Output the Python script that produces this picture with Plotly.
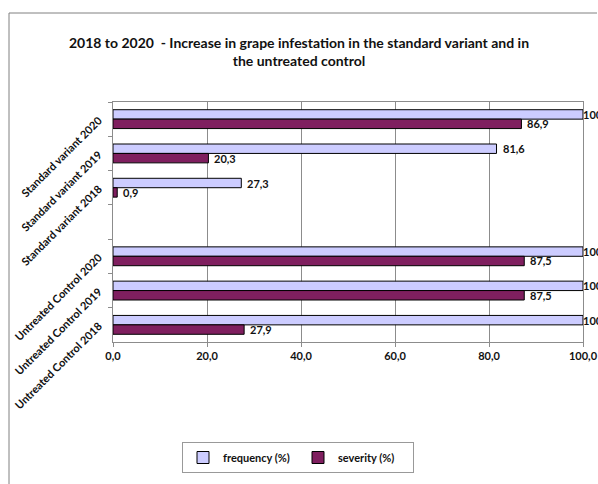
import plotly.graph_objects as go

categories = ["Standard variant 2020", "Standard variant 2019", "Standard variant 2018", " ",
              "Untreated Control 2020", "Untreated Control 2019", "Untreated Control 2018"]
frequency = [100.0, 81.6, 27.3, None, 100.0, 100.0, 100.0]
severity = [86.9, 20.3, 0.9, None, 87.5, 87.5, 27.9]
x_ticks = [0, 20, 40, 60, 80, 100]
x_tick_labels = ["0,0", "20,0", "40,0", "60,0", "80,0", "100,0"]

FONT = "Lato"
X_MAX = 100

def fmt(v):
    return f"{v:.1f}".replace(".", ",")

fig = go.Figure()
fig.add_trace(go.Bar(
    y=categories, x=frequency, orientation="h", name="frequency (%)",
    marker=dict(color="#CCCCFF", line=dict(color="#000000", width=1)),
    cliponaxis=False,
))
fig.add_trace(go.Bar(
    y=categories, x=severity, orientation="h", name="severity (%)",
    marker=dict(color="#7F1F5F", line=dict(color="#000000", width=1)),
    cliponaxis=False,
))

# data labels (Excel-style: labels at the axis maximum are pulled back inside)
for series, yshift in ((frequency, 4.7), (severity, -4.7)):
    for cat, v in zip(categories, series):
        if v is None:
            continue
        fig.add_annotation(
            x=v, y=cat, xref="x", yref="y", text=fmt(v), showarrow=False,
            xanchor="left", yanchor="middle",
            xshift=(-2 if v >= X_MAX else 4), yshift=yshift,
            font=dict(family=FONT, size=11, color="#111111", weight="bold"),
        )

fig.update_layout(
    width=598, height=484, autosize=False,
    margin=dict(l=113, r=15, t=102, b=142, autoexpand=False),
    paper_bgcolor="white", plot_bgcolor="white",
    barmode="group", bargap=0.45, bargroupgap=0,
    font=dict(family=FONT, color="#111111"),
    title=dict(
        text="2018 to 2020  - Increase in grape infestation in the standard variant and in<br>the untreated control",
        x=0.5, xanchor="center", xref="container",
        y=1 - 48 / 484, yanchor="top", yref="container",
        font=dict(family=FONT, size=14, color="#111111", weight="bold"),
    ),
    xaxis=dict(
        range=[0, X_MAX], tickvals=x_ticks, ticktext=x_tick_labels,
        showgrid=True, gridcolor="#8C8C8C", gridwidth=1,
        showline=True, linecolor="#8C8C8C", linewidth=1, mirror=True,
        ticks="outside", ticklen=4, tickcolor="#8C8C8C",
        tickfont=dict(family=FONT, size=11, color="#111111", weight="bold"),
        zeroline=False, fixedrange=True, automargin=False,
    ),
    yaxis=dict(
        categoryorder="array", categoryarray=categories, autorange="reversed",
        type="category", tickson="boundaries",
        showline=True, linecolor="#8C8C8C", linewidth=1, mirror=True,
        ticks="outside", ticklen=4, tickcolor="#8C8C8C",
        tickangle=-45, showgrid=False, automargin=False, ticklabelstandoff=11,
        tickfont=dict(family=FONT, size=11, color="#111111", weight="bold"),
    ),
    legend=dict(
        orientation="h", xref="container", yref="container",
        x=298 / 598, xanchor="center", y=1 - 442 / 484, yanchor="top",
        bordercolor="#999999", borderwidth=1, bgcolor="white",
        font=dict(family=FONT, size=11, color="#111111", weight="bold"),
        itemwidth=30, entrywidth=70,
    ),
    showlegend=True,
)

# outer chart-area frame (top and left edges visible in the reference)
x0 = (9 - 113) / 470
x1 = (597 - 113) / 470
ytop = (342 - 13) / 240
ybot = (342 - 484) / 240
fig.add_shape(type="line", xref="paper", yref="paper", x0=x0, x1=x1, y0=ytop, y1=ytop,
              line=dict(color="#808080", width=1))
fig.add_shape(type="line", xref="paper", yref="paper", x0=x0, x1=x0, y0=ytop, y1=ybot,
              line=dict(color="#808080", width=1))

fig.write_html("out.html")
